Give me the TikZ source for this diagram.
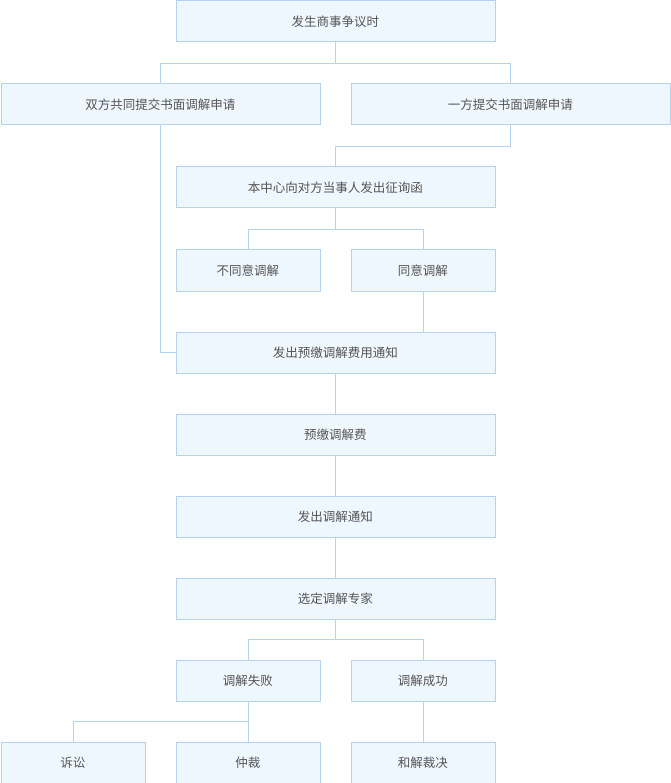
\documentclass[tikz,border=0pt]{standalone}
\usepackage{fontspec}
\setmainfont{Noto Sans CJK SC}
\definecolor{bfill}{HTML}{EEF6FE}
\definecolor{bline}{HTML}{B5D3F0}
\definecolor{txt}{HTML}{555555}
\begin{document}
\begin{tikzpicture}[x=1pt,y=-1pt,
  bx/.style={draw=bline,fill=bfill,line width=0.8pt,text=txt,font=\fontsize{12.5}{14}\selectfont,inner sep=0pt,anchor=north west},
  ln/.style={draw=bline,line width=0.8pt}]
\useasboundingbox (0,0) rectangle (670,783);
\newcommand\bbox[6]{\node[bx,minimum width=#4pt,minimum height=41pt] (#1) at (#2,#3) {#5};}
\bbox{a}{175.5}{0.5}{319}{发生商事争议时}{}
\bbox{b}{0.5}{83.5}{319}{双方共同提交书面调解申请}{}
\bbox{c}{350.5}{83.5}{319}{一方提交书面调解申请}{}
\bbox{d}{175.5}{166.5}{319}{本中心向对方当事人发出征询函}{}
\bbox{e}{175.5}{249.5}{144}{不同意调解}{}
\bbox{f}{350.5}{249.5}{144}{同意调解}{}
\bbox{g}{175.5}{331.5}{319}{发出预缴调解费用通知}{}
\bbox{h}{175.5}{413.5}{319}{预缴调解费}{}
\bbox{i}{175.5}{495.5}{319}{发出调解通知}{}
\bbox{j}{175.5}{577.5}{319}{选定调解专家}{}
\bbox{k}{175.5}{659.5}{144}{调解失败}{}
\bbox{l}{350.5}{659.5}{144}{调解成功}{}
\bbox{m}{0.5}{741.5}{144}{诉讼}{}
\bbox{n}{175.5}{741.5}{144}{仲裁}{}
\bbox{o}{350.5}{741.5}{144}{和解裁决}{}
\draw[ln] (a.south) -- ++(0,21) -| (b.north);
\draw[ln] (a.south) ++(0,21) -| (c.north);
\draw[ln] (c.south east) ++(-159.5,0) -- ++(0,21) -| (d.north);
\draw[ln] (d.south) -- ++(0,21) -| (e.north);
\draw[ln] (d.south) ++(0,21) -| (f.north);
\draw[ln] (f.south) -- (f.south |- g.north);
\draw[ln] (b.south) |- (g.west);
\draw[ln] (g.south) -- (h.north);
\draw[ln] (h.south) -- (i.north);
\draw[ln] (i.south) -- (j.north);
\draw[ln] (j.south) -- ++(0,20.5) -| (k.north);
\draw[ln] (j.south) ++(0,20.5) -| (l.north);
\draw[ln] (k.south) -- ++(0,20.5) -| (m.north);
\draw[ln] (k.south) -- (n.north);
\draw[ln] (l.south) -- (o.north);
\end{tikzpicture}
\end{document}
